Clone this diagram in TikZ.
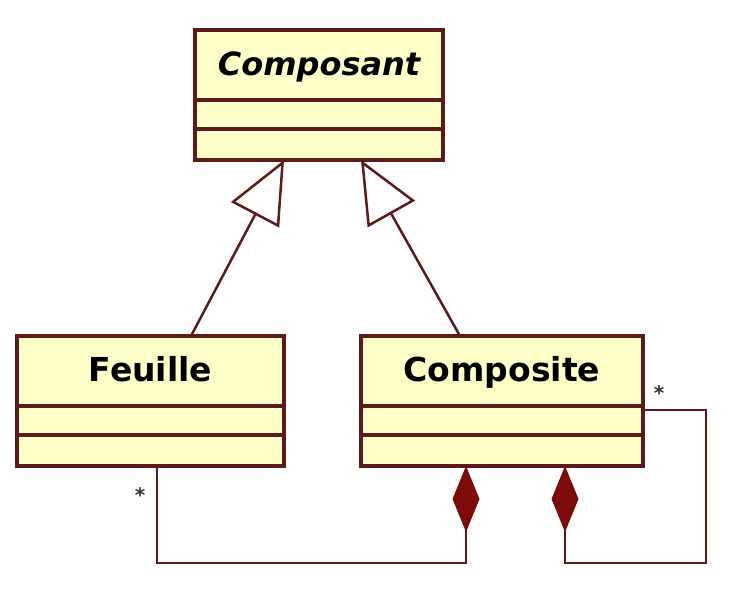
\documentclass[tikz,border=0pt]{standalone}
\usepackage{fontspec}
\newfontfamily\umlfont{DejaVu Sans}
\usepackage{tikz}
\usetikzlibrary{arrows.meta,positioning}

\definecolor{umlline}{RGB}{92,26,26}
\definecolor{umlfill}{RGB}{255,255,200}
\definecolor{umldiamond}{RGB}{125,10,10}

\begin{document}
\begin{tikzpicture}[x=1pt,y=-1pt,
    classname/.style={draw=umlline, fill=umlfill, line width=3.2pt, outer sep=0pt,
        minimum height=70pt, text height=24pt, text depth=4pt,
        font=\umlfont\bfseries\fontsize{33}{38}\selectfont},
    classpart/.style={draw=umlline, fill=umlfill, line width=3.2pt, outer sep=0pt},
    inherit/.style={draw=umlline, line width=2.5pt, -{Triangle[open, length=62pt, width=54pt]}},
    compose/.style={draw=umlline, line width=2.5pt,
        {Diamond[length=66pt, width=27pt, fill=umldiamond, color=umldiamond]}-},
    mult/.style={font=\umlfont\bfseries\fontsize{20}{24}\selectfont, anchor=base, text=black!80}]

\fill[white] (0,0) rectangle (738,600); % background
\useasboundingbox (0,0) rectangle (738,600);

% abstract class on top
\node[classname, minimum width=248pt,
    font=\umlfont\bfseries\itshape\fontsize{32}{38}\selectfont] (composant) at (319,65) {Composant};
\node[classpart, minimum width=248pt, minimum height=29pt, below=0pt of composant] (composantattr) {};
\node[classpart, minimum width=248pt, minimum height=31pt, below=0pt of composantattr] (composantops) {};

% leaf
\node[classname, minimum width=267pt] (feuille) at (150.5,371) {Feuille};
\node[classpart, minimum width=267pt, minimum height=29pt, below=0pt of feuille] (feuilleattr) {};
\node[classpart, minimum width=267pt, minimum height=31pt, below=0pt of feuilleattr] (feuilleops) {};

% composite
\node[classname, minimum width=282pt] (composite) at (502,371) {Composite};
\node[classpart, minimum width=282pt, minimum height=29pt, below=0pt of composite] (compositeattr) {};
\node[classpart, minimum width=282pt, minimum height=31pt, below=0pt of compositeattr] (compositeops) {};

% generalisations
\draw[inherit] ([xshift=40.5pt]feuille.north) -- ([xshift=-35pt]composantops.south);
\draw[inherit] ([xshift=-42pt]composite.north) -- ([xshift=42pt]composantops.south);

% compositions
\draw[compose] ([xshift=-36pt]compositeops.south) -- ++(0,97) -| ([xshift=6.5pt]feuilleops.south);
\draw[compose] ([xshift=63pt]compositeops.south) -- ++(0,97)
    -| ([xshift=63pt,yshift=-4pt]compositeattr.north east) -- ([yshift=-4pt]compositeattr.north east);

\node[mult] (feuillemult) at (140,502) {*};
\node[mult] (compositemult) at (659,400) {*};

\end{tikzpicture}
\end{document}
